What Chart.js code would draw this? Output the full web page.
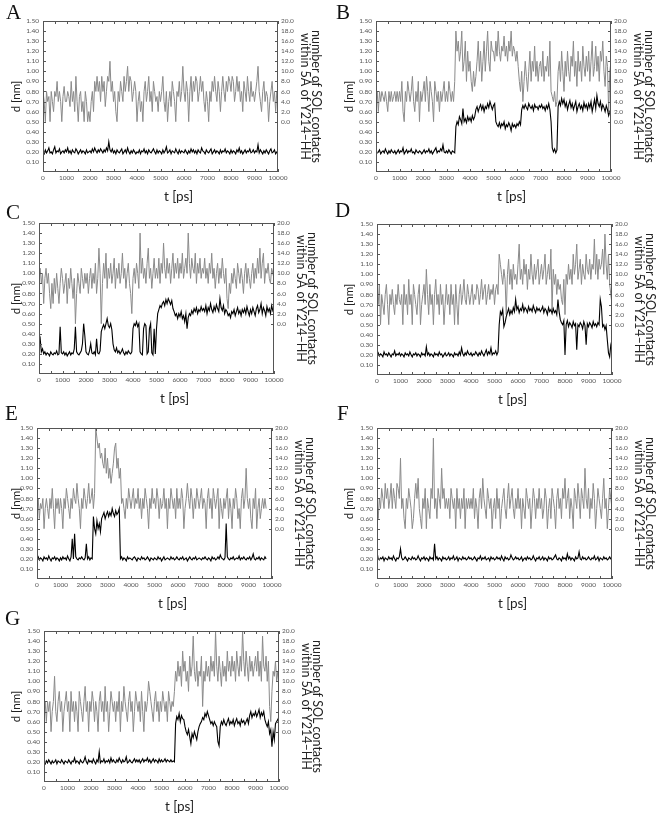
<!DOCTYPE html>
<html lang="en">
<head>
  <meta charset="UTF-8" />
  <title>Y214-HH distance and water contacts</title>
  <script src="https://cdn.jsdelivr.net/npm/chart.js"></script>
  <style>
    body { margin: 0; background: #fff; width: 660px; height: 815px; position: relative; overflow: hidden; font-family: Lato, "Liberation Sans", sans-serif; }
    .panel { position: absolute; }
    .letter { position: absolute; font-family: "Liberation Serif", serif; font-size: 21px; line-height: 1; color: #111; }
    .xtitle { position: absolute; font-size: 13.5px; color: #222; transform: translate(-50%, -50%); white-space: nowrap; }
  </style>
</head>
<body>
  <div id="fig"></div>
  <script>
    // sampling interval of the traces (ps)
    const STEP_PS = 50;

    // --- A ---
    const distA = [0.2,0.18,0.22,0.19,0.21,0.24,0.19,0.2,0.18,0.22,0.25,0.19,0.21,0.2,0.23,0.18,0.2,0.21,0.19,0.22,
      0.2,0.24,0.19,0.21,0.18,0.22,0.2,0.19,0.23,0.21,0.18,0.2,0.22,0.19,0.21,0.2,0.18,0.22,0.19,0.2,
      0.21,0.19,0.23,0.2,0.24,0.21,0.19,0.22,0.2,0.23,0.21,0.19,0.22,0.2,0.24,0.21,0.3,0.22,0.2,0.23,
      0.19,0.21,0.18,0.22,0.2,0.19,0.21,0.23,0.18,0.2,0.22,0.19,0.24,0.2,0.18,0.21,0.19,0.22,0.2,0.18,
      0.2,0.19,0.22,0.18,0.21,0.2,0.23,0.19,0.21,0.18,0.22,0.2,0.19,0.21,0.23,0.2,0.18,0.22,0.19,0.21,
      0.2,0.18,0.22,0.19,0.21,0.25,0.19,0.2,0.22,0.18,0.21,0.2,0.19,0.23,0.2,0.18,0.22,0.19,0.21,0.2,
      0.19,0.22,0.2,0.18,0.21,0.19,0.23,0.2,0.22,0.19,0.21,0.18,0.22,0.2,0.19,0.24,0.21,0.2,0.18,0.22,
      0.2,0.19,0.21,0.23,0.18,0.2,0.22,0.19,0.21,0.2,0.18,0.22,0.19,0.21,0.2,0.23,0.19,0.21,0.2,0.18,
      0.22,0.19,0.21,0.2,0.18,0.22,0.2,0.24,0.19,0.21,0.18,0.2,0.22,0.19,0.21,0.2,0.23,0.19,0.2,0.22,
      0.19,0.21,0.2,0.27,0.19,0.22,0.2,0.18,0.21,0.19,0.22,0.2,0.18,0.21,0.23,0.19,0.2,0.22,0.18,0.2,0.21];
    const solA = [6,4,0,6,4,5,0,6,4,2,6,5,8,4,6,4,0,5,7,4,
      4,6,5,3,8,4,6,2,9,4,0,5,6,2,4,0,6,4,0,2,
      0,4,6,2,8,6,9,6,8,4,9,6,8,3,6,9,8,12,6,8,
      4,6,2,0,6,4,8,6,4,9,6,8,11,6,9,8,4,6,8,6,
      0,4,6,2,4,0,6,8,4,6,9,4,6,2,8,6,4,5,2,6,
      4,6,9,4,2,6,0,4,6,3,8,6,4,0,6,5,8,4,6,11,
      6,4,8,6,0,6,9,4,8,6,9,8,4,6,9,6,8,4,2,6,
      4,0,6,4,8,6,9,6,4,8,6,2,6,9,6,4,8,6,9,8,
      6,9,8,4,6,9,6,8,4,6,2,8,6,4,9,6,4,8,5,6,
      4,6,8,11,6,4,2,6,8,4,6,5,0,4,6,8,4,6,2,6,4];

    // --- B ---
    const distB = [0.21,0.19,0.2,0.22,0.18,0.2,0.21,0.19,0.23,0.2,0.18,0.21,0.19,0.22,0.2,0.19,0.21,0.18,0.2,0.22,
      0.19,0.21,0.2,0.24,0.18,0.2,0.22,0.19,0.21,0.2,0.23,0.19,0.2,0.18,0.22,0.2,0.19,0.21,0.2,0.18,
      0.2,0.22,0.19,0.21,0.2,0.23,0.19,0.21,0.18,0.2,0.22,0.24,0.19,0.21,0.2,0.23,0.21,0.27,0.2,0.19,
      0.21,0.19,0.22,0.2,0.18,0.21,0.2,0.19,0.45,0.5,0.47,0.55,0.52,0.48,0.63,0.5,0.53,0.49,0.55,0.51,
      0.54,0.5,0.56,0.52,0.55,0.62,0.65,0.6,0.64,0.67,0.62,0.66,0.6,0.65,0.63,0.68,0.64,0.7,0.66,0.62,
      0.66,0.68,0.5,0.47,0.45,0.49,0.44,0.48,0.46,0.5,0.43,0.47,0.45,0.49,0.46,0.41,0.48,0.45,0.47,0.44,
      0.48,0.46,0.5,0.47,0.62,0.66,0.63,0.67,0.64,0.62,0.68,0.65,0.63,0.66,0.61,0.67,0.64,0.65,0.62,0.66,
      0.64,0.67,0.63,0.65,0.61,0.66,0.63,0.68,0.62,0.5,0.24,0.2,0.23,0.19,0.22,0.65,0.7,0.66,0.73,0.68,
      0.72,0.65,0.69,0.62,0.67,0.71,0.64,0.68,0.62,0.66,0.7,0.6,0.65,0.68,0.63,0.66,0.61,0.69,0.64,0.67,
      0.62,0.68,0.64,0.7,0.6,0.66,0.72,0.63,0.76,0.68,0.65,0.7,0.62,0.67,0.64,0.6,0.66,0.62,0.56,0.6,0.63];
    const solB = [4,6,2,6,4,6,5,4,6,4,2,6,4,6,4,5,6,4,6,4,
      6,4,8,2,0,6,4,8,6,4,6,9,4,2,6,4,8,0,6,4,
      6,8,4,9,6,2,8,6,4,0,8,6,4,6,2,6,4,6,8,4,
      6,4,8,6,4,6,4,8,18,14,16,12,14,18,10,12,16,8,14,10,
      12,8,6,10,7,9,12,16,10,14,8,12,16,10,14,18,12,10,16,14,
      14,12,16,13,18,14,12,15,14,17,13,15,12,16,14,18,13,15,14,12,
      14,11,8,6,10,4,8,12,9,6,10,14,8,12,10,15,9,12,8,11,
      12,9,14,8,11,10,13,9,16,6,5,4,6,3,4,10,12,8,14,10,
      6,12,9,14,10,8,13,11,16,9,12,7,14,10,12,8,15,11,9,13,
      10,14,8,12,16,9,11,15,10,13,8,14,12,16,10,7,13,11,2,10,12];

    // --- C ---
    const distC = [0.3,0.35,0.22,0.25,0.2,0.22,0.19,0.21,0.2,0.18,0.22,0.2,0.19,0.21,0.2,0.23,0.19,0.2,0.47,0.21,
      0.2,0.22,0.19,0.21,0.18,0.2,0.22,0.19,0.21,0.2,0.25,0.47,0.22,0.2,0.19,0.21,0.23,0.3,0.5,0.38,
      0.22,0.2,0.19,0.23,0.3,0.21,0.2,0.22,0.19,0.35,0.21,0.2,0.23,0.42,0.46,0.49,0.45,0.5,0.55,0.48,
      0.46,0.5,0.44,0.3,0.24,0.22,0.26,0.21,0.23,0.2,0.22,0.25,0.21,0.19,0.22,0.2,0.23,0.21,0.2,0.22,
      0.45,0.5,0.48,0.52,0.47,0.5,0.22,0.2,0.19,0.45,0.5,0.48,0.2,0.22,0.45,0.5,0.21,0.19,0.45,0.2,
      0.45,0.6,0.64,0.68,0.66,0.7,0.72,0.68,0.74,0.7,0.75,0.72,0.69,0.73,0.65,0.62,0.58,0.6,0.55,0.6,
      0.57,0.62,0.55,0.58,0.52,0.6,0.45,0.56,0.6,0.58,0.63,0.6,0.65,0.62,0.66,0.6,0.64,0.62,0.67,0.63,
      0.65,0.62,0.68,0.6,0.66,0.63,0.7,0.64,0.61,0.67,0.63,0.69,0.65,0.62,0.75,0.66,0.63,0.68,0.6,0.64,
      0.62,0.58,0.6,0.56,0.62,0.6,0.64,0.58,0.62,0.66,0.6,0.63,0.58,0.64,0.61,0.65,0.6,0.67,0.62,0.58,
      0.64,0.6,0.66,0.62,0.58,0.65,0.68,0.61,0.64,0.7,0.6,0.66,0.63,0.58,0.67,0.62,0.65,0.6,0.68,0.63,0.66];
    const solC = [10,11,8,10,4,9,11,8,10,6,3,8,4,9,6,10,7,4,8,11,
      9,6,8,10,4,9,7,11,8,5,9,0,6,10,8,6,11,9,7,10,
      8,10,6,9,11,7,10,8,12,6,9,15,10,0,8,12,9,14,7,11,
      9,12,8,10,13,7,11,9,12,8,10,14,9,11,7,10,12,8,6,2,
      9,11,8,12,10,7,18,10,13,9,11,8,12,15,9,11,7,10,13,9,
      11,9,13,8,12,10,16,11,9,13,10,12,8,11,14,9,12,10,13,9,
      12,10,14,9,11,13,10,18,12,9,13,11,10,14,8,12,10,13,9,11,
      10,13,9,11,8,12,10,14,9,11,7,10,12,8,11,9,13,10,8,11,
      5,3,8,6,10,8,11,9,7,12,10,8,11,9,6,10,12,8,11,9,
      7,10,12,8,11,9,13,10,15,9,12,14,8,11,10,12,9,8,11,10,9];

    // --- D ---
    const distD = [0.2,0.22,0.19,0.21,0.2,0.18,0.23,0.2,0.21,0.19,0.22,0.2,0.18,0.21,0.2,0.24,0.19,0.21,0.2,0.22,
      0.19,0.21,0.2,0.18,0.22,0.2,0.21,0.19,0.23,0.2,0.18,0.21,0.2,0.22,0.19,0.21,0.2,0.18,0.22,0.2,
      0.21,0.19,0.28,0.2,0.22,0.19,0.21,0.2,0.18,0.22,0.2,0.21,0.19,0.23,0.2,0.21,0.18,0.2,0.22,0.19,
      0.2,0.22,0.19,0.21,0.2,0.18,0.22,0.2,0.21,0.19,0.23,0.2,0.27,0.21,0.19,0.22,0.2,0.24,0.21,0.2,
      0.22,0.19,0.21,0.2,0.23,0.21,0.19,0.22,0.2,0.24,0.21,0.19,0.22,0.25,0.2,0.23,0.21,0.27,0.2,0.22,
      0.21,0.24,0.2,0.23,0.5,0.63,0.6,0.65,0.48,0.52,0.58,0.62,0.66,0.6,0.64,0.61,0.67,0.63,0.75,0.65,
      0.68,0.62,0.66,0.64,0.7,0.63,0.67,0.65,0.62,0.68,0.64,0.66,0.63,0.69,0.65,0.62,0.67,0.64,0.66,0.63,
      0.65,0.68,0.62,0.66,0.64,0.6,0.67,0.63,0.65,0.61,0.66,0.62,0.64,0.6,0.75,0.63,0.55,0.52,0.5,0.54,
      0.2,0.5,0.54,0.48,0.52,0.5,0.47,0.53,0.49,0.51,0.25,0.5,0.48,0.52,0.5,0.46,0.53,0.49,0.3,0.51,
      0.48,0.52,0.5,0.47,0.53,0.49,0.51,0.48,0.52,0.5,0.75,0.68,0.48,0.5,0.45,0.49,0.35,0.22,0.18,0.3,0.35];
    const solD = [6,4,8,0,6,4,2,6,8,4,0,6,4,7,4,2,6,4,8,5,
      4,6,0,8,4,6,2,9,4,6,0,8,6,4,2,6,8,0,4,6,
      8,4,11,6,2,8,4,6,0,6,9,4,6,2,8,4,6,0,4,8,
      4,6,2,8,4,6,0,8,4,0,6,8,4,6,9,5,4,8,6,4,
      6,8,4,6,5,8,7,4,6,9,5,7,8,4,6,8,5,7,6,8,
      4,7,8,6,14,12,10,8,11,9,2,10,13,8,11,7,12,9,10,8,
      12,16,9,11,8,13,10,12,7,11,9,14,10,8,12,9,11,13,8,10,
      12,9,11,14,8,10,12,9,15,3,11,8,10,6,9,7,8,5,4,9,
      2,10,8,12,9,11,8,14,10,12,16,9,11,13,8,12,10,9,14,11,
      10,13,9,12,11,17,10,14,9,13,11,12,15,10,18,12,9,14,8,6,4];

    // --- E (trace ends at 9750 ps) ---
    const distE = [0.2,0.22,0.19,0.21,0.2,0.18,0.22,0.2,0.21,0.19,0.23,0.2,0.18,0.21,0.2,0.22,0.19,0.21,0.2,0.18,
      0.21,0.19,0.22,0.2,0.21,0.19,0.23,0.2,0.18,0.22,0.4,0.2,0.45,0.22,0.2,0.19,0.21,0.2,0.22,0.2,
      0.19,0.21,0.35,0.2,0.22,0.19,0.21,0.2,0.62,0.5,0.45,0.58,0.5,0.55,0.47,0.6,0.63,0.66,0.6,0.64,
      0.67,0.62,0.66,0.63,0.7,0.65,0.62,0.68,0.64,0.66,0.7,0.2,0.22,0.19,0.21,0.2,0.18,0.22,0.2,0.21,
      0.2,0.19,0.21,0.22,0.2,0.18,0.21,0.2,0.19,0.22,0.2,0.21,0.19,0.2,0.22,0.2,0.18,0.21,0.2,0.19,
      0.21,0.2,0.19,0.22,0.2,0.21,0.18,0.2,0.22,0.19,0.2,0.21,0.2,0.19,0.22,0.2,0.21,0.19,0.2,0.22,
      0.2,0.19,0.21,0.2,0.22,0.19,0.2,0.21,0.18,0.2,0.22,0.2,0.19,0.21,0.2,0.22,0.19,0.2,0.21,0.2,
      0.19,0.21,0.2,0.22,0.2,0.19,0.21,0.2,0.18,0.22,0.2,0.21,0.19,0.2,0.22,0.2,0.24,0.21,0.2,0.19,
      0.21,0.55,0.22,0.2,0.19,0.21,0.2,0.22,0.19,0.2,0.21,0.2,0.23,0.19,0.21,0.2,0.22,0.2,0.19,0.21,
      0.2,0.22,0.19,0.21,0.25,0.2,0.19,0.21,0.2,0.22,0.19,0.21,0.2,0.19,0.22,0.2];
    const solE = [4,6,2,5,4,6,0,4,6,4,2,6,4,8,4,0,6,4,6,3,
      6,4,0,6,4,8,6,4,2,6,4,8,6,5,9,6,4,0,6,4,
      8,6,4,6,9,5,6,8,4,7,20,18,16,17,14,15,13,12,16,11,
      14,10,12,9,11,13,16,17,12,14,10,12,5,6,4,2,6,4,8,6,
      4,6,8,4,6,5,8,4,6,2,6,4,8,6,4,0,6,4,8,5,
      6,4,8,6,2,6,4,5,8,4,6,0,6,4,8,6,4,6,2,8,
      4,6,4,8,6,0,4,6,9,6,4,8,6,2,6,4,8,6,4,6,
      8,4,6,5,0,6,8,4,6,2,8,6,4,6,8,0,6,4,2,6,
      4,6,8,2,6,4,0,6,4,8,6,2,4,0,6,8,4,6,12,6,
      4,6,2,0,6,4,8,0,4,6,2,4,6,4,6,4];

    // --- F ---
    const distF = [0.27,0.2,0.19,0.21,0.2,0.22,0.18,0.21,0.2,0.19,0.22,0.2,0.21,0.19,0.23,0.2,0.18,0.21,0.2,0.22,
      0.3,0.21,0.19,0.2,0.22,0.2,0.18,0.21,0.2,0.19,0.22,0.2,0.21,0.19,0.2,0.23,0.2,0.18,0.21,0.2,
      0.22,0.19,0.21,0.2,0.18,0.22,0.2,0.21,0.19,0.35,0.2,0.22,0.19,0.21,0.2,0.18,0.22,0.2,0.21,0.19,
      0.2,0.22,0.19,0.21,0.2,0.23,0.19,0.2,0.22,0.18,0.21,0.2,0.19,0.22,0.2,0.21,0.19,0.2,0.22,0.2,
      0.21,0.19,0.2,0.22,0.2,0.18,0.21,0.2,0.23,0.19,0.21,0.2,0.22,0.19,0.2,0.21,0.18,0.22,0.2,0.21,
      0.19,0.2,0.22,0.2,0.21,0.19,0.23,0.2,0.18,0.22,0.2,0.21,0.19,0.2,0.24,0.21,0.19,0.2,0.22,0.2,
      0.21,0.19,0.2,0.22,0.18,0.2,0.21,0.19,0.22,0.2,0.21,0.19,0.2,0.23,0.2,0.18,0.21,0.2,0.22,0.19,
      0.2,0.22,0.19,0.21,0.2,0.18,0.22,0.2,0.21,0.19,0.2,0.22,0.24,0.2,0.19,0.21,0.2,0.18,0.22,0.2,
      0.21,0.19,0.25,0.2,0.22,0.19,0.21,0.2,0.18,0.22,0.2,0.21,0.27,0.2,0.19,0.22,0.2,0.21,0.19,0.2,
      0.22,0.2,0.19,0.21,0.2,0.23,0.19,0.2,0.22,0.18,0.21,0.2,0.19,0.22,0.2,0.21,0.19,0.2,0.22,0.2,0.21];
    const solF = [4,2,6,4,8,6,4,9,6,8,4,6,9,4,8,6,4,9,8,6,
      14,4,6,2,0,6,4,8,6,4,0,2,6,9,6,10,4,2,0,6,
      4,8,0,6,4,2,8,6,18,4,6,2,8,6,4,12,6,8,4,6,
      4,6,2,8,6,4,6,0,8,4,6,2,6,4,8,0,6,4,6,4,
      6,4,8,2,6,4,0,6,8,4,10,6,4,2,8,6,4,6,0,4,
      6,2,8,4,6,0,4,6,8,4,2,6,9,4,6,8,4,2,6,4,
      8,4,6,0,6,4,2,8,6,4,6,0,4,8,6,2,6,4,8,4,
      6,2,4,8,6,0,4,6,2,8,6,4,0,6,8,4,6,2,8,6,
      10,4,6,8,2,6,4,0,8,6,4,9,6,2,8,6,4,12,6,4,
      8,2,6,4,9,6,0,4,8,6,4,2,6,10,4,6,0,4,8,6,4];

    // --- G ---
    const distG = [0.2,0.18,0.21,0.19,0.22,0.2,0.18,0.21,0.19,0.2,0.22,0.18,0.21,0.2,0.19,0.22,0.2,0.18,0.21,0.2,
      0.19,0.22,0.2,0.18,0.21,0.2,0.24,0.19,0.21,0.2,0.18,0.22,0.2,0.19,0.21,0.25,0.2,0.18,0.22,0.2,
      0.21,0.19,0.23,0.2,0.18,0.22,0.2,0.3,0.19,0.21,0.2,0.23,0.19,0.21,0.2,0.22,0.19,0.24,0.2,0.22,
      0.2,0.19,0.22,0.2,0.24,0.21,0.19,0.22,0.2,0.21,0.25,0.19,0.2,0.22,0.2,0.19,0.21,0.23,0.2,0.22,
      0.2,0.22,0.19,0.21,0.23,0.2,0.22,0.21,0.24,0.2,0.22,0.19,0.21,0.23,0.2,0.22,0.21,0.19,0.23,0.2,
      0.22,0.2,0.21,0.23,0.2,0.22,0.21,0.2,0.22,0.2,0.21,0.2,0.58,0.65,0.62,0.68,0.6,0.66,0.63,0.62,
      0.55,0.5,0.47,0.52,0.45,0.38,0.48,0.44,0.5,0.46,0.42,0.5,0.55,0.58,0.6,0.64,0.62,0.68,0.65,0.7,
      0.66,0.62,0.58,0.6,0.56,0.6,0.57,0.55,0.4,0.36,0.55,0.6,0.57,0.62,0.58,0.56,0.6,0.63,0.57,0.6,
      0.58,0.62,0.56,0.6,0.63,0.58,0.6,0.56,0.62,0.59,0.61,0.57,0.6,0.63,0.58,0.66,0.7,0.64,0.68,0.66,
      0.7,0.65,0.68,0.72,0.64,0.69,0.66,0.7,0.62,0.58,0.55,0.6,0.48,0.52,0.35,0.5,0.42,0.58,0.6,0.62,0.65];
    const solG = [4,6,2,6,4,6,0,4,6,11,4,2,6,8,4,6,0,4,6,8,
      4,6,0,8,4,6,2,6,4,0,8,6,4,2,6,9,4,6,0,6,
      4,8,6,2,6,4,0,6,8,4,6,2,9,4,6,0,4,8,6,4,
      6,2,6,4,8,0,6,4,9,6,4,2,6,8,4,6,0,4,8,6,
      4,6,2,8,4,0,6,4,6,10,8,6,4,2,6,8,4,6,2,6,
      4,8,6,4,6,2,8,6,4,6,5,8,12,10,14,11,13,9,16,12,
      14,10,12,8,15,11,13,19,12,10,14,9,12,11,15,5,12,10,14,11,
      13,10,15,12,14,11,20,13,10,15,12,9,14,11,13,10,16,12,14,11,
      15,12,14,10,16,13,11,15,12,20,14,11,16,13,10,15,12,14,11,13,
      15,12,16,11,14,10,19,13,12,15,10,14,5,2,8,12,11,14,10,12,9];

    // panel layout: plot-area top-left corner and letter position (px)
    const PLOT_W = 235, PLOT_H = 151;
    const panels = [
      { tag: 'A', dist: distA, sol: solA, plotLeft: 43,  plotTop: 21,  letter: [6, 2] },
      { tag: 'B', dist: distB, sol: solB, plotLeft: 376, plotTop: 21,  letter: [336, 2] },
      { tag: 'C', dist: distC, sol: solC, plotLeft: 39,  plotTop: 223, letter: [6, 202] },
      { tag: 'D', dist: distD, sol: solD, plotLeft: 377, plotTop: 224, letter: [335, 200] },
      { tag: 'E', dist: distE, sol: solE, plotLeft: 37,  plotTop: 428, letter: [5, 403] },
      { tag: 'F', dist: distF, sol: solF, plotLeft: 377, plotTop: 428, letter: [337, 403] },
      { tag: 'G', dist: distG, sol: solG, plotLeft: 44,  plotTop: 631, letter: [5, 608] }
    ];

    Chart.defaults.font.family = 'Lato, "Liberation Sans", sans-serif';

    // box around the plot with short inward ticks, like the original figure
    const frameTicks = {
      id: 'frameTicks',
      afterDatasetsDraw(chart) {
        const { ctx, chartArea: a, scales } = chart;
        ctx.save();
        ctx.strokeStyle = '#555';
        ctx.lineWidth = 1;
        ctx.strokeRect(a.left + 0.5, a.top + 0.5, a.right - a.left - 1, a.bottom - a.top - 1);
        ctx.beginPath();
        for (let v = 0; v <= 10000; v += 500) {
          const x = Math.round(scales.x.getPixelForValue(v)) + 0.5;
          ctx.moveTo(x, a.bottom); ctx.lineTo(x, a.bottom - 3);
          ctx.moveTo(x, a.top); ctx.lineTo(x, a.top + 3);
        }
        scales.y.ticks.forEach(t => {
          if (t.value < 0.05) return;
          const y = Math.round(scales.y.getPixelForValue(t.value)) + 0.5;
          ctx.moveTo(a.left, y); ctx.lineTo(a.left + 3, y);
        });
        scales.y2.ticks.forEach(t => {
          if (t.value < 0) return;
          const y = Math.round(scales.y2.getPixelForValue(t.value)) + 0.5;
          ctx.moveTo(a.right, y); ctx.lineTo(a.right - 3, y);
        });
        ctx.stroke();
        ctx.restore();
      }
    };

    const fig = document.getElementById('fig');

    panels.forEach(p => {
      const colLeft = p.plotLeft < 330 ? 0 : 333;
      const plotRight = p.plotLeft + PLOT_W;
      const leftW = p.plotLeft - colLeft;
      const cw = plotRight + 52 - colLeft;

      const wrap = document.createElement('div');
      wrap.className = 'panel';
      wrap.style.left = colLeft + 'px';
      wrap.style.top = (p.plotTop - 8) + 'px';
      const canvas = document.createElement('canvas');
      canvas.width = cw;
      canvas.height = 8 + PLOT_H + 37;
      wrap.appendChild(canvas);
      fig.appendChild(wrap);

      const letter = document.createElement('div');
      letter.className = 'letter';
      letter.textContent = p.tag;
      letter.style.left = p.letter[0] + 'px';
      letter.style.top = p.letter[1] + 'px';
      fig.appendChild(letter);

      const xt = document.createElement('div');
      xt.className = 'xtitle';
      xt.textContent = 't [ps]';
      xt.style.left = (p.plotLeft + PLOT_W / 2 + 18) + 'px';
      xt.style.top = (p.plotTop + PLOT_H + 24) + 'px';
      fig.appendChild(xt);

      new Chart(canvas, {
        type: 'line',
        data: {
          datasets: [
            {
              label: 'd',
              data: p.dist.map((v, i) => ({ x: i * STEP_PS, y: v })),
              yAxisID: 'y',
              borderColor: '#000',
              borderWidth: 1.1,
              pointRadius: 0,
              tension: 0
            },
            {
              label: 'SOL contacts',
              data: p.sol.map((v, i) => ({ x: i * STEP_PS, y: v })),
              yAxisID: 'y2',
              borderColor: '#8a8a8a',
              borderWidth: 1,
              pointRadius: 0,
              tension: 0
            }
          ]
        },
        options: {
          responsive: false,
          animation: false,
          layout: { padding: { top: 8, left: 0, right: 0, bottom: 0 } },
          plugins: { legend: { display: false }, tooltip: { enabled: false } },
          scales: {
            x: {
              type: 'linear', min: 0, max: 10000,
              ticks: { stepSize: 1000, autoSkip: false, maxRotation: 0, padding: 2, color: '#555', font: { size: 6.5 }, callback: v => String(v) },
              grid: { display: false, drawTicks: false },
              border: { display: false },
              afterFit: s => { s.height = 37; }
            },
            y: {
              position: 'left', min: 0, max: 1.5,
              ticks: { stepSize: 0.1, autoSkip: false, padding: 4, color: '#555', font: { size: 6.5 }, callback: v => v < 0.05 ? '' : v.toFixed(2) },
              grid: { display: false, drawTicks: false },
              border: { display: false },
              title: { display: true, text: 'd [nm]', color: '#222', font: { size: 11.5 }, padding: { top: 9, bottom: 0 } },
              afterFit: s => { s.width = leftW; }
            },
            y2: {
              position: 'right', min: -10, max: 20,
              ticks: { stepSize: 2, autoSkip: false, padding: 3, color: '#555', font: { size: 6.5 }, callback: v => v < 0 ? '' : v.toFixed(1) },
              grid: { display: false, drawTicks: false },
              border: { display: false },
              title: { display: true, text: ['number of SOL contacts', 'within 5Å of Y214–HH'], color: '#222', font: { size: 12.5, lineHeight: 0.92 }, padding: { top: 8, bottom: 0 } },
              afterFit: s => { s.width = 52; }
            }
          }
        },
        plugins: [frameTicks]
      });
    });
  </script>
</body>
</html>
